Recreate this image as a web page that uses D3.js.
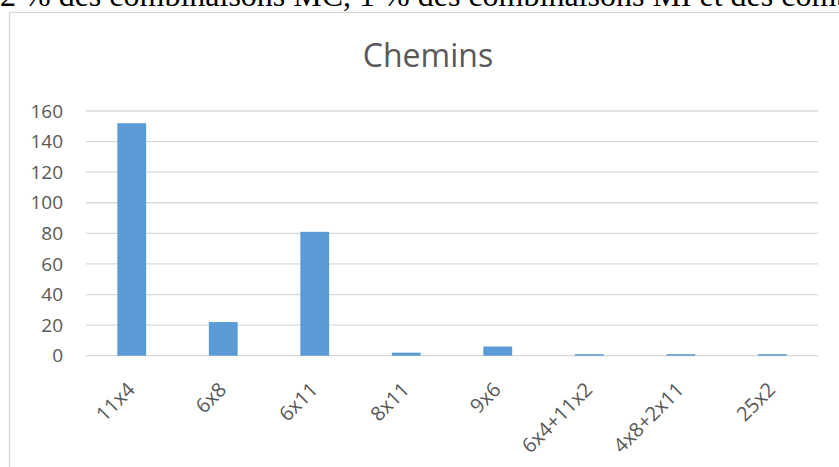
<!DOCTYPE html>
<html><head><meta charset="utf-8">
<script src="https://cdn.jsdelivr.net/npm/d3@7"></script>
<style>body{margin:0;background:#fff;}svg{display:block;}</style>
</head><body>
<svg id="c" width="839" height="467"></svg>
<script>
const categories = ["11x4","6x8","6x11","8x11","9x6","6x4+11x2","4x8+2x11","25x2"];
const values = [152, 22, 81, 2, 6, 1, 1, 1];
const yTicks = [0,20,40,60,80,100,120,140,160];
const title = "Chemins";
const topText = "2 % des combinaisons MC, 1 % des combinaisons MI et des combinaisons";

const svg = d3.select("#c");
const font = "'Open Sans', 'Noto Sans', sans-serif";
const textCol = "#595959";

// page text above the chart frame (cut off)
svg.append("text").attr("x", 0).attr("y", 6)
  .attr("font-family", "'Liberation Serif', 'Times New Roman', serif")
  .attr("font-size", 32).attr("fill", "#000").text(topText);

// chart frame
svg.append("rect").attr("x", 9.5).attr("y", 12.5).attr("width", 850).attr("height", 470)
  .attr("fill", "#fff").attr("stroke", "#d9d9d9").attr("stroke-width", 1.3);

svg.append("text").attr("x", 428).attr("y", 67).attr("text-anchor", "middle")
  .attr("font-family", font).attr("font-size", 32).attr("fill", textCol).text(title);

const x = d3.scaleBand().domain(categories).range([86, 818]).padding(0);
const y = d3.scaleLinear().domain([0,160]).range([355.7, 111]);

const grid = svg.append("g");
grid.selectAll("line").data(yTicks).join("line")
  .attr("x1", 86).attr("x2", 818)
  .attr("y1", d => y(d)).attr("y2", d => y(d))
  .attr("stroke", "#d9d9d9").attr("stroke-width", 1.3);

const yAxis = svg.append("g").attr("transform", "translate(63,0)")
  .call(d3.axisLeft(y).tickValues(yTicks).tickSize(0).tickPadding(0));
yAxis.select(".domain").remove();
yAxis.selectAll("text").attr("font-family", font).attr("font-size", 19).attr("fill", textCol);

const bw = x.bandwidth() * 0.315;
svg.append("g").selectAll("rect").data(values).join("rect")
  .attr("x", (d,i) => x(categories[i]) + x.bandwidth()/2 - bw/2)
  .attr("width", bw)
  .attr("y", d => y(d))
  .attr("height", d => y(0) - y(d))
  .attr("fill", "#5b9bd5");

const xAxis = svg.append("g").attr("transform", "translate(0,356)")
  .call(d3.axisBottom(x).tickSize(0).tickPadding(0));
xAxis.select(".domain").remove();
xAxis.selectAll("text")
  .attr("font-family", font).attr("font-size", 20).attr("fill", textCol)
  .attr("text-anchor", "end")
  .attr("transform", "translate(-0.5,30) rotate(-45)")
  .attr("dy", "0.35em").attr("y", 0);
</script>
</body></html>
